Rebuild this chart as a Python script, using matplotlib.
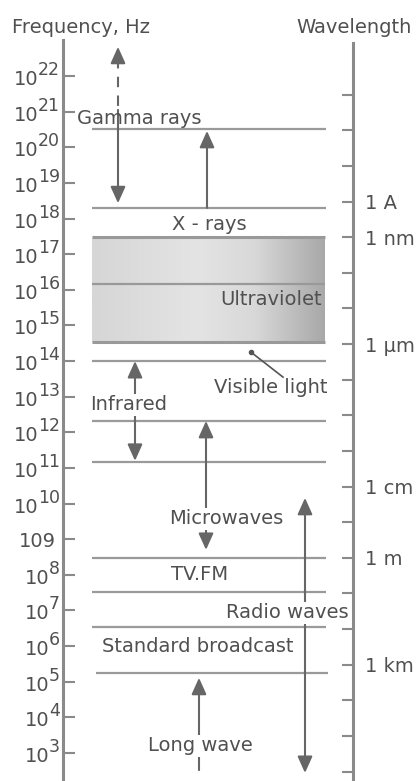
import matplotlib
matplotlib.use('Agg')
import matplotlib.pyplot as plt
import numpy as np
from matplotlib.colors import LinearSegmentedColormap
from matplotlib.ticker import NullLocator

# everything on the vertical is log10(frequency / Hz)
freq_exp = list(range(3, 23))
wave_exp = list(range(-13, 7))          # log10(wavelength / m)
wave_names = {-10: '1 A', -9: '1 nm', -6: '1 µm', -2: '1 cm', 0: '1 m', 3: '1 km'}
C_EXP = np.log10(3e8)

band_lines = [20.51, 18.30, 14.00, 12.32, 11.17, 8.47, 7.52, 6.54]
broadcast_low = 5.25
uv_top, uv_mid, uv_bottom = 17.48, 16.16, 14.54

# x, tail, tip, style
arrows = [
    (118, 21.05, 18.43, '-|>'),     # gamma (down)
    (207, 18.30, 20.46, '-|>'),     # x-ray (up)
    (135, 11.20, 14.00, '<|-|>'),   # infrared
    (206, 9.88, 12.32, '-|>'),      # microwave up
    (206, 9.26, 8.70, '-|>'),       # microwave down
    (305, 2.44, 10.16, '<|-|>'),    # radio
    (199, 2.52, 5.11, '-|>'),       # long wave
]
gamma_dash = (22.51, 21.05)
gamma_tip = 22.82

# label, x, y, ha, white box
labels = [
    ('Gamma rays', 77, 20.82, 'left', False),
    ('X - rays', 209, 17.82, 'center', False),
    ('Ultraviolet', 322, 15.74, 'right', False),
    ('Visible light', 271, 13.25, 'center', False),
    ('Infrared', 90, 12.77, 'left', True),
    ('Microwaves', 226, 9.57, 'center', True),
    ('TV.FM', 200, 8.00, 'center', False),
    ('Radio waves', 349, 6.93, 'right', True),
    ('Standard broadcast', 102, 5.98, 'left', False),
    ('Long wave', 200, 3.20, 'center', True),
]
visible_ptr = ((251, 14.25), (283, 13.55))

TXT = '#505050'
LINE = '#9a9a9a'
AXC = '#8a8a8a'
ARR = '#666666'
FS = 14

def F(e):
    return 10.0 ** e

Y_TOP, Y_BOT = 24.134, 2.214

fig = plt.figure(figsize=(4.16, 7.81), dpi=100)
ax = fig.add_axes([0, 0, 1, 1])
ax.set_yscale('log')

# ultraviolet gradient box
cmap = LinearSegmentedColormap.from_list('uv', [(0, '#d6d6d6'), (0.45, '#e4e4e4'),
                                              (0.7, '#d8d8d8'), (1, '#a8a8a8')])
grad = np.linspace(0, 1, 256)[np.newaxis, :]
ax.imshow(grad, extent=[92, 325, F(uv_bottom), F(uv_top)], aspect='auto',
          cmap=cmap, zorder=1, interpolation='bilinear')
ax.hlines([F(uv_top), F(uv_bottom)], 92, 325, color='#999999', lw=2.2, zorder=2)
ax.hlines(F(uv_mid), 92, 325, color='#999999', lw=1.6, zorder=2)

ax.hlines([F(v) for v in band_lines], 92, 326, color=LINE, lw=1.6, zorder=2)
ax.hlines(F(broadcast_low), 96, 328, color=LINE, lw=1.6, zorder=2)

for x, a, b, st in arrows:
    ax.annotate('', xy=(x, F(b)), xytext=(x, F(a)), zorder=3,
                arrowprops=dict(arrowstyle=st + ',head_length=1.0,head_width=0.45',
                                color=ARR, lw=1.5, shrinkA=0, shrinkB=0))
ax.plot([118, 118], [F(gamma_dash[0]), F(gamma_dash[1])], color=ARR, lw=1.5,
        dashes=(5, 4), zorder=3)
ax.annotate('', xy=(118, F(gamma_tip)), xytext=(118, F(gamma_dash[0])), zorder=3,
            arrowprops=dict(arrowstyle='-|>,head_length=1.0,head_width=0.45',
                            color=ARR, lw=1.5, shrinkA=0, shrinkB=0))

(px0, py0), (px1, py1) = visible_ptr
ax.plot([px0, px1], [F(py0), F(py1)], color='#555555', lw=1.2, zorder=3)
ax.plot(px0, F(py0), 'o', color='#555555', ms=3, zorder=3)

for txt, x, y, ha, box in labels:
    kw = {}
    if box:
        kw['bbox'] = dict(facecolor='white', edgecolor='none', pad=1.0)
    ax.text(x, F(y), txt, ha=ha, va='center', fontsize=FS, color=TXT, zorder=4, **kw)

ax.text(12, F(23.35), 'Frequency, Hz', ha='left', va='center', fontsize=FS, color=TXT)
ax.text(412, F(23.35), 'Wavelength', ha='right', va='center', fontsize=FS, color=TXT)

ax.set_xlim(0, 416)
ax.set_ylim(F(Y_BOT), F(Y_TOP))

# left (frequency) axis
for s in ['top', 'bottom', 'right']:
    ax.spines[s].set_visible(False)
ax.spines['left'].set_position(('data', 63))
ax.spines['left'].set_bounds(F(Y_BOT), F(23.01))
ax.spines['left'].set_color(AXC)
ax.spines['left'].set_linewidth(2.2)
ax.set_xticks([])
ax.set_yticks([F(e) for e in freq_exp])
ax.yaxis.set_minor_locator(NullLocator())
ax.set_yticklabels([])
ax.tick_params(axis='y', direction='in', length=8.6, width=1.5, color=AXC)

# right (wavelength) axis
ax2 = ax.twinx()
ax2.set_yscale('log')
ax2.set_ylim(F(Y_BOT), F(Y_TOP))
for s in ['top', 'bottom', 'left']:
    ax2.spines[s].set_visible(False)
ax2.spines['right'].set_position(('data', 353))
ax2.spines['right'].set_bounds(F(Y_BOT), F(22.93))
ax2.spines['right'].set_color(AXC)
ax2.spines['right'].set_linewidth(2.2)
ax2.set_yticks([F(C_EXP - w) for w in wave_exp])
ax2.yaxis.set_minor_locator(NullLocator())
ax2.set_yticklabels([wave_names.get(w, '') for w in wave_exp])
ax2.tick_params(axis='y', direction='in', length=8, width=1.5, color=AXC,
                pad=8.5, labelsize=FS, labelcolor=TXT)

# frequency tick labels: 10 with a large raised exponent
renderer = fig.canvas.get_renderer()
for e in freq_exp:
    if e == 9:
        ax.annotate('109', xy=(63, F(e)), xytext=(-7, -2), textcoords='offset pixels',
                    ha='right', va='center', fontsize=14, color=TXT)
        continue
    sup = ax.annotate(str(e), xy=(63, F(e)), xytext=(-3, 1), textcoords='offset pixels',
                      ha='right', va='baseline', fontsize=12.5, color=TXT)
    bb = sup.get_window_extent(renderer)
    sx = ax.transData.transform((63, F(e)))[0]
    ax.annotate('10', xy=(63, F(e)), xytext=(bb.x0 - sx + 0.5, -9),
                textcoords='offset pixels', ha='right', va='baseline',
                fontsize=14, color=TXT)

fig.savefig('out.png', dpi=100)
